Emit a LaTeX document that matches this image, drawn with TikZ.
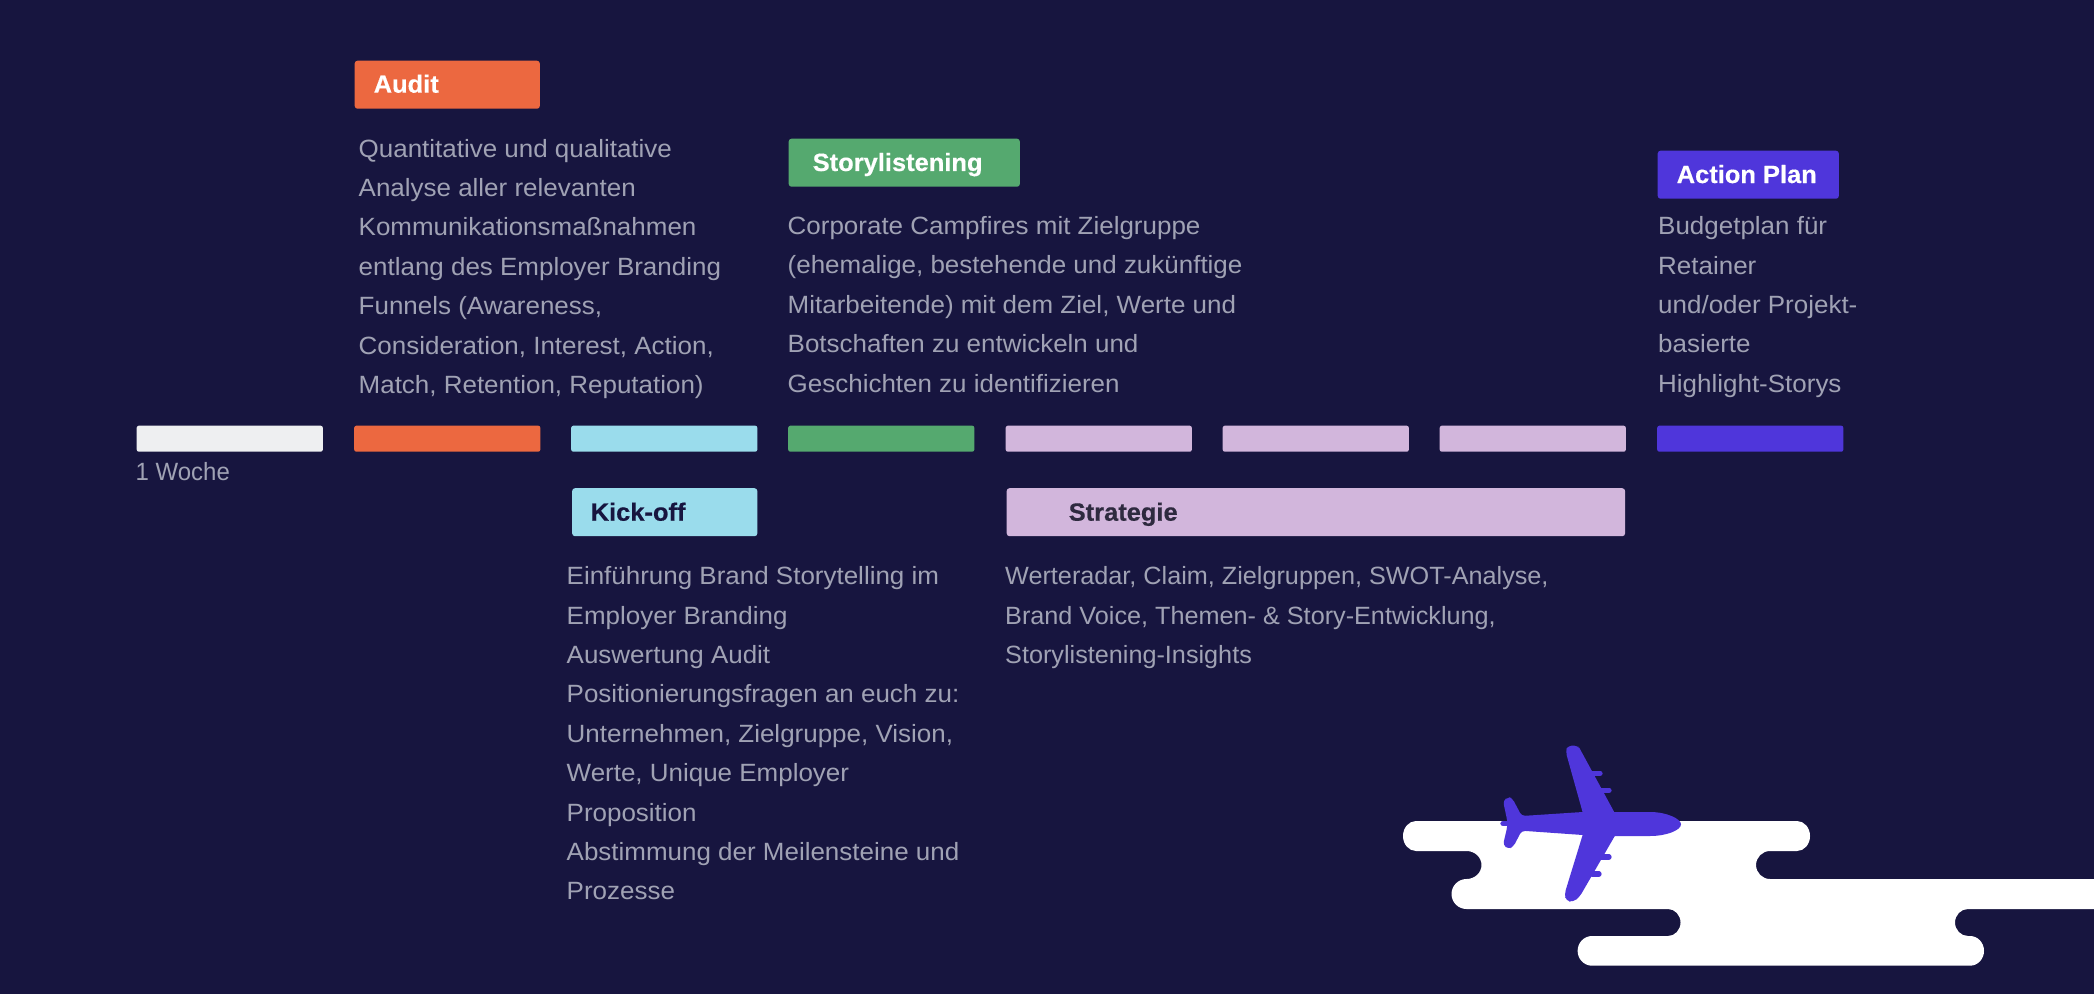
\documentclass[tikz,border=0pt]{standalone}
\usepackage{fontspec}
\setmainfont{Liberation Sans}
\newfontfamily\tagfont[FakeStretch=1.02, FakeBold=0.4]{Liberation Sans Bold}
\newfontfamily\bodyfont[FakeStretch=1.04]{Liberation Sans}
\newfontfamily\stratfont[FakeStretch=1.01]{Liberation Sans}
\newfontfamily\weekfont[FakeStretch=0.96]{Liberation Sans}
\definecolor{nightblue}{HTML}{17153F}
\definecolor{weekwhite}{HTML}{EEEFF1}
\definecolor{auditorange}{HTML}{EC6840}
\definecolor{kickblue}{HTML}{9ADCEC}
\definecolor{storygreen}{HTML}{55A96F}
\definecolor{stratlilac}{HTML}{D2B6DC}
\definecolor{planviolet}{HTML}{4F36DB}
\definecolor{bodygrey}{HTML}{A0A2B4}
\definecolor{stratdark}{HTML}{2E2A3F}
\tikzset{
  barbox/.style={rectangle, rounded corners=0.6pt, inner sep=0pt, anchor=north west, minimum width=1.86cm, minimum height=0.26cm},
  tagbox/.style={rectangle, rounded corners=0.8pt, inner sep=0pt, anchor=north west, minimum height=0.48cm},
  tagtext/.style={inner sep=0pt, anchor=base west, font=\fontsize{7.1}{11.2}\tagfont},
  bodytext/.style={inner sep=0pt, anchor=north west, align=left, text=bodygrey, font=\fontsize{7.1}{11.2}\bodyfont},
  enginepod/.style={planviolet, line width=1.5pt, line cap=round},
}
\begin{document}
\begin{tikzpicture}[x=0.01cm, y=0.01cm]
  % Draw the background
  \fill[nightblue] (0,0) rectangle (2094,-994);

  % Draw the bars of the time line
  \node[barbox, fill=weekwhite] (barweek) at (136,-425) {};
  \node[barbox, fill=auditorange] (baraudit) at (353.5,-425) {};
  \node[barbox, fill=kickblue] (barkick) at (570.5,-425) {};
  \node[barbox, fill=storygreen] (barstory) at (787.5,-425) {};
  \node[barbox, fill=stratlilac] (barstratone) at (1005,-425) {};
  \node[barbox, fill=stratlilac] (barstrattwo) at (1222,-425) {};
  \node[barbox, fill=stratlilac] (barstratthree) at (1439,-425) {};
  \node[barbox, fill=planviolet] (barplan) at (1656.5,-425) {};
  \node[bodytext, anchor=base west, font=\fontsize{7.1}{11.2}\weekfont] (week) at (135,-480.5) {1 Woche};

  % Draw the tags
  \node[tagbox, fill=auditorange, minimum width=1.85cm] (tagaudit) at (354,-60) {};
  \node[tagtext, text=white] (nameaudit) at (373,-92.7) {Audit};
  \node[tagbox, fill=storygreen, minimum width=2.31cm] (tagstory) at (788,-138) {};
  \node[tagtext, text=white] (namestory) at (812,-171) {Storylistening};
  \node[tagbox, fill=planviolet, minimum width=1.81cm] (tagplan) at (1657,-150) {};
  \node[tagtext, text=white] (nameplan) at (1676,-183) {Action Plan};
  \node[tagbox, fill=kickblue, minimum width=1.85cm] (tagkick) at (571.5,-487.5) {};
  \node[tagtext, text=nightblue] (namekick) at (590,-520.7) {Kick-off};
  \node[tagbox, fill=stratlilac, minimum width=6.18cm] (tagstrat) at (1006,-487.5) {};
  \node[tagtext, text=stratdark] (namestrat) at (1068,-520.7) {Strategie};

  % Draw the texts under the tags
  \node[bodytext] (bodyaudit) at (358,-138.3) {Quantitative und qualitative\\Analyse aller relevanten\\Kommunikationsmaßnahmen\\entlang des Employer Branding\\Funnels (Awareness,\\Consideration, Interest, Action,\\Match, Retention, Reputation)};
  \node[bodytext] (bodystory) at (787,-215.7) {Corporate Campfires mit Zielgruppe\\(ehemalige, bestehende und zukünftige\\Mitarbeitende) mit dem Ziel, Werte und\\Botschaften zu entwickeln und\\Geschichten zu identifizieren};
  \node[bodytext] (bodyplan) at (1657.5,-216) {Budgetplan für\\Retainer\\und/oder Projekt-\\basierte\\Highlight-Storys};
  \node[bodytext] (bodykick) at (566,-566) {Einführung Brand Storytelling im\\Employer Branding\\Auswertung Audit\\Positionierungsfragen an euch zu:\\Unternehmen, Zielgruppe, Vision,\\Werte, Unique Employer\\Proposition\\Abstimmung der Meilensteine und\\Prozesse};
  \node[bodytext, font=\fontsize{7.1}{11.2}\stratfont] (bodystrat) at (1004.5,-566) {Werteradar, Claim, Zielgruppen, SWOT-Analyse,\\Brand Voice, Themen- \& Story-Entwicklung,\\Storylistening-Insights};

  % Draw the clouds
  \fill[white] (1416,-821) arc[start angle=90, end angle=270, x radius=13, y radius=15]
    -- (1466.5,-851) arc[start angle=90, end angle=-90, x radius=15, y radius=14]
    arc[start angle=90, end angle=270, x radius=15, y radius=15]
    -- (1668,-909) arc[start angle=90, end angle=-90, x radius=12.5, y radius=13.5]
    -- (1592,-936) arc[start angle=90, end angle=270, x radius=14.4, y radius=14.85]
    -- (1970,-965.7) arc[start angle=270, end angle=450, x radius=14, y radius=14.85]
    -- (1968,-936) arc[start angle=270, end angle=90, x radius=13, y radius=13.5]
    -- (2094,-909) -- (2094,-879) -- (1770,-879)
    arc[start angle=270, end angle=90, x radius=14, y radius=14]
    -- (1797,-851) arc[start angle=270, end angle=450, x radius=13, y radius=15] -- cycle;

  % Draw the plane
  \fill[planviolet, rounded corners=1.2pt] (1620.7,-824) -- (1580.5,-750) -- (1578,-745.5) -- (1568,-745.5) -- (1565.5,-751) -- (1585.9,-824) -- cycle;
  \fill[planviolet, rounded corners=1.2pt] (1621.7,-824) -- (1579.5,-897) -- (1573,-902) -- (1566,-901) -- (1564.5,-894) -- (1586,-824) -- cycle;
  \fill[planviolet, rounded corners=1pt] (1600,-812) -- (1582.7,-812) -- (1521.7,-816) -- (1512.3,-798.3) -- (1508.3,-797) -- (1503,-800.7) -- (1507.3,-821)
    -- (1507.3,-826.7) -- (1503,-845) -- (1508.3,-849) -- (1513.3,-846.7) -- (1521.7,-830.7) -- (1582.7,-835) -- (1600,-836)
    [sharp corners] -- (1650,-836) .. controls (1667,-836) and (1681,-830) .. (1681,-824.3) .. controls (1681,-819) and (1667,-812) .. (1650,-812) -- cycle;
  \draw[enginepod] (1592,-773.3) -- (1600,-773.3);
  \draw[enginepod] (1600,-790.3) -- (1609,-790.3);
  \draw[enginepod] (1600,-857) -- (1609,-857);
  \draw[enginepod] (1592,-874) -- (1599,-874);
  \draw[enginepod] (1503,-823.5) -- (1508,-823.5);
\end{tikzpicture}
\end{document}
